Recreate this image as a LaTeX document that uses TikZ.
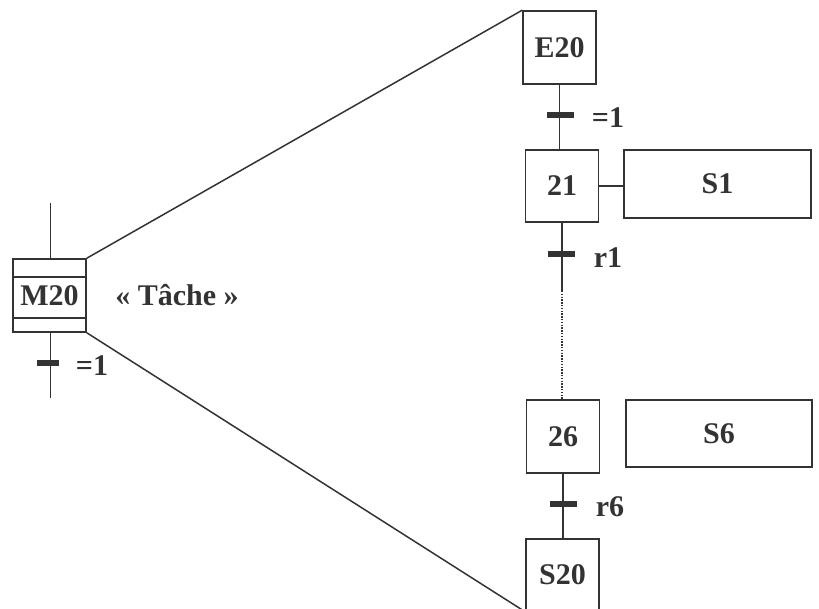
\documentclass[tikz,border=0pt]{standalone}
\usepackage{fontspec}
\setmainfont{Liberation Serif}
\definecolor{ink}{HTML}{333333}
\begin{document}
\begin{tikzpicture}[x=1pt,y=-1pt,
  stepbox/.style={draw=ink, line width=1.6pt, minimum width=73pt, minimum height=73pt, inner sep=0pt,
    font=\fontsize{30}{34}\selectfont\bfseries, text=ink},
  actbox/.style={stepbox, minimum width=187pt, minimum height=68pt},
  bar/.style={fill=ink, minimum width=27pt, minimum height=6.5pt, inner sep=0pt},
  lbl/.style={font=\fontsize{30}{34}\selectfont\bfseries, text=ink, inner sep=0pt},
  link/.style={draw=ink, line width=1.5pt}]
\useasboundingbox (0,0) rectangle (819,609);
% steps
\node[stepbox] (m20) at (49.5,295.5) {M20};
\draw[link] ([yshift=-19pt]m20.north west) -- ([yshift=-19pt]m20.north east);
\draw[link] ([yshift=15pt]m20.south west) -- ([yshift=15pt]m20.south east);
\node[stepbox] (e20) at (559.5,47.5) {E20};
\node[stepbox, minimum height=72pt] (s21) at (562,186) {21};
\node[actbox] (s1) at (717.5,184) {S1};
\node[stepbox] (s26) at (563,436.5) {26};
\node[actbox, minimum width=186pt, minimum height=67pt] (s6) at (719,433.5) {S6};
\node[stepbox, minimum height=72pt] (s20) at (562.5,575) {S20};
% free ends
\coordinate (m20top) at (50.5,203);
\coordinate (m20bot) at (50.5,398);
\coordinate (d1) at (562,291);
% connectors
\draw[link] (m20top) -- (m20top |- m20.north);
\draw[link] (m20bot |- m20.south) -- (m20bot);
\draw[link] (m20.north east) -- (e20.north west);
\draw[link] (m20.south east) -- (s20.south west);
\draw[link] (e20.south) -- (e20.south |- s21.north);
\draw[link] (s21.east) -- (s21.east -| s1.west);
\draw[link] (s21.south) -- (d1);
\draw[link, line width=1.3pt, dash pattern=on 1.4pt off 1.4pt] (d1) -- (d1 |- s26.north);
\draw[link] (s26.south) -- (s26.south |- s20.north);
% transitions
\node[bar, minimum width=22pt] (t0) at (48,363) {};
\node[bar] (t1) at (560,115) {};
\node[bar] (t2) at (561.5,254) {};
\node[bar] (t3) at (563.5,504) {};
% labels
\node[lbl] (l0) at (92,366) {=1};
\node[lbl] (l1) at (608,118) {=1};
\node[lbl] (l2) at (608,258) {r1};
\node[lbl] (l3) at (610,507) {r6};
\node[lbl] (tache) at (177,295) {« Tâche »};
\end{tikzpicture}
\end{document}
